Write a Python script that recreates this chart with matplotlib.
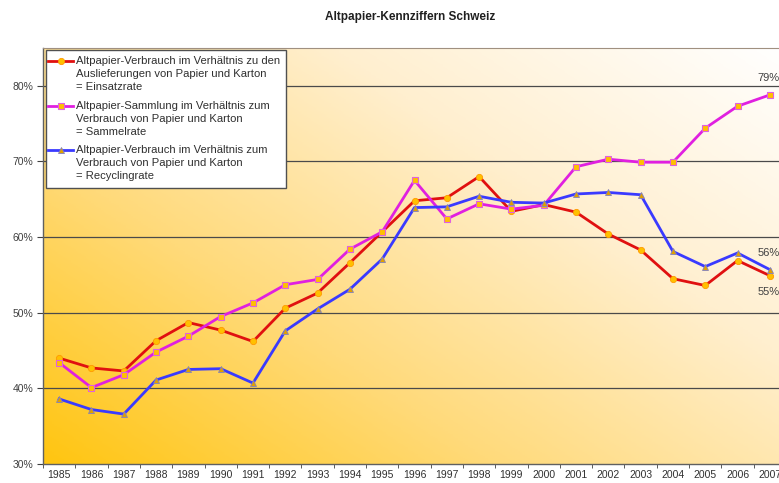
import matplotlib
matplotlib.use("Agg")
import matplotlib.pyplot as plt
import numpy as np
from matplotlib.colors import LinearSegmentedColormap
from matplotlib.lines import Line2D
from matplotlib.patches import Rectangle

plt.rcParams['font.family'] = ['Liberation Sans', 'DejaVu Sans']

years = [str(y) for y in range(1985, 2008)]
einsatzrate = [44.0, 42.7, 42.3, 46.3, 48.7, 47.7, 46.2, 50.6, 52.6, 56.6, 60.7, 64.8, 65.2, 68.0,
               63.4, 64.3, 63.3, 60.4, 58.3, 54.5, 53.6, 56.9, 54.9]
sammelrate = [43.4, 40.1, 41.8, 44.8, 46.9, 49.5, 51.3, 53.7, 54.4, 58.4, 60.7, 67.5, 62.4, 64.4,
              63.7, 64.2, 69.3, 70.3, 69.9, 69.9, 74.4, 77.3, 78.8]
recyclingrate = [38.6, 37.2, 36.6, 41.1, 42.5, 42.6, 40.7, 47.6, 50.5, 53.1, 57.1, 63.9, 64.0, 65.4,
                 64.6, 64.5, 65.7, 65.9, 65.6, 58.1, 56.1, 57.9, 55.7]
labels = ["Altpapier-Verbrauch im Verhältnis zu den\nAuslieferungen von Papier und Karton\n= Einsatzrate",
          "Altpapier-Sammlung im Verhältnis zum\nVerbrauch von Papier und Karton\n= Sammelrate",
          "Altpapier-Verbrauch im Verhältnis zum\nVerbrauch von Papier und Karton\n= Recyclingrate"]
yticks = [30, 40, 50, 60, 70, 80]
end_labels = ["55%", "79%", "56%"]
title = "Altpapier-Kennziffern Schweiz"

W, H = 779, 483
fig = plt.figure(figsize=(W/100, H/100), dpi=100)
ax = fig.add_axes([43/W, 1-464/H, (786-43)/W, (464-48)/H])

# gradient background
n = 300
xx, yy = np.meshgrid(np.linspace(0, 1, n), np.linspace(0, 1, n))
t = np.clip((xx * 0.55 + yy * 0.45), 0, 1)
cmap = LinearSegmentedColormap.from_list("g", ["#FFC510", "#FFDA7A", "#FFEFCF", "#FFFFFF"])
ax.imshow(t, cmap=cmap, origin='lower', extent=[0, 1, 0, 1], transform=ax.transAxes,
          aspect='auto', zorder=0, interpolation='bilinear')

x = np.arange(len(years))
ax.set_xlim(-0.5, len(years) - 0.5)
ax.set_ylim(30, 85)

for yv in yticks[1:]:
    ax.axhline(yv, color='#4a4a4a', lw=0.9, zorder=1)

styles = [
    dict(color='#E01010', lw=2, marker='o', ms=4.5, mfc='#FFC000', mec='#FF9900', mew=0.6),
    dict(color='#E020E0', lw=2, marker='s', ms=5, mfc='#FFC000', mec='#E060E0', mew=0.8),
    dict(color='#3A3AFF', lw=2, marker='^', ms=5, mfc='#E0A000', mec='#8080C0', mew=0.6),
]
series = [einsatzrate, sammelrate, recyclingrate]
for s, st in zip(series, styles):
    ax.plot(x, s, zorder=3, **st)

ax.annotate(end_labels[1], (x[-1], sammelrate[-1]), xytext=(-1, 12), textcoords='offset points',
            ha='center', va='center', fontsize=8, color='#404040')
ax.annotate(end_labels[2], (x[-1], recyclingrate[-1]), xytext=(-1, 12), textcoords='offset points',
            ha='center', va='center', fontsize=8, color='#404040')
ax.annotate(end_labels[0], (x[-1], einsatzrate[-1]), xytext=(-1, -12), textcoords='offset points',
            ha='center', va='center', fontsize=8, color='#404040')

ax.set_xticks(x)
ax.set_xticklabels(years, fontsize=7.5, color='#303030')
ax.set_xticks(np.arange(-0.5, len(years), 1), minor=True)
ax.tick_params(axis='x', which='major', length=0, pad=4)
ax.tick_params(axis='x', which='minor', length=3, color='#404040', direction='out')
ax.set_yticks(yticks)
ax.set_yticklabels([f"{v}%" for v in yticks], fontsize=7.5, color='#404040')
ax.tick_params(axis='y', length=4, color='#404040', direction='out', pad=3)

for sp in ['left', 'bottom']:
    ax.spines[sp].set_color('#606060')
    ax.spines[sp].set_linewidth(1)
ax.spines['top'].set_color('#a09080')
ax.spines['right'].set_visible(False)

fig.text(0.527, 1 - 17/H, title, ha='center', va='center', fontsize=8.5, fontweight='bold',
         color='#202020')

# manual legend (figure pixel coordinates)
def fx(px): return px / W
def fy(py): return 1 - py / H

fig.patches.append(Rectangle((fx(46), fy(188)), (286-46)/W, (188-50)/H, transform=fig.transFigure,
                             facecolor='white', edgecolor='#505050', lw=1, zorder=5))
entry_y = [61, 106, 150]
for ey, st, lab in zip(entry_y, styles, labels):
    ln = Line2D([fx(48), fx(73)], [fy(ey), fy(ey)], transform=fig.transFigure,
                color=st['color'], lw=st['lw'], zorder=6)
    mk = Line2D([fx(60.5)], [fy(ey)], transform=fig.transFigure, ls='none', marker=st['marker'],
                ms=st['ms'], mfc=st['mfc'], mec=st['mec'], mew=st['mew'], zorder=7)
    fig.add_artist(ln)
    fig.add_artist(mk)
    fig.text(fx(76), fy(ey - 5), lab, ha='left', va='top', fontsize=8.1, color='#303030',
             linespacing=1.36, zorder=7)

fig.savefig("out.png", dpi=100)
